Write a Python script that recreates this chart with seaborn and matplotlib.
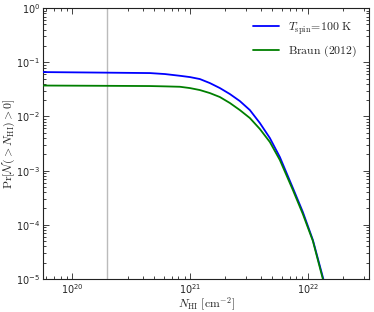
import numpy as np
import pandas as pd
import matplotlib
matplotlib.use("Agg")
import matplotlib.pyplot as plt
import seaborn as sns
from matplotlib.ticker import LogLocator, LogFormatterMathtext, NullFormatter

# Column density values (cm^-2)
n_blue = [5.68e19, 1.727e20, 4.58e20, 6.14e20, 8.23e20, 1.0e21, 1.215e21, 1.477e21,
          1.796e21, 2.183e21, 2.653e21, 3.225e21, 3.920e21, 4.764e21, 5.79e21,
          7.465e21, 9.07e21, 1.103e22, 1.353e22]
p_blue = [0.0659, 0.0645, 0.0632, 0.0606, 0.0563, 0.0533, 0.0490, 0.0413,
          0.0334, 0.0259, 0.0192, 0.0131, 0.00755, 0.00399, 0.00178,
          4.78e-4, 1.72e-4, 5.25e-5, 1.0e-5]

n_green = [5.68e19, 1.727e20, 4.58e20, 6.14e20, 8.23e20, 1.0e21, 1.215e21, 1.477e21,
           1.796e21, 2.183e21, 2.653e21, 3.225e21, 3.920e21, 4.764e21, 5.79e21,
           7.465e21, 9.07e21, 1.103e22, 1.340e22]
p_green = [0.0372, 0.0368, 0.0364, 0.0359, 0.0353, 0.0334, 0.0307, 0.0270,
           0.0228, 0.0177, 0.0131, 0.00934, 0.00586, 0.00337, 0.00157,
           4.39e-4, 1.58e-4, 5.03e-5, 1.0e-5]

labels = [r"$T_{\rm spin}\!=\!100\ {\rm K}$", r"${\rm Braun\ (2012)}$"]
colors = ["#0000ff", "#007f00"]
vline_x = 2e20

sns.set_theme(style="ticks")
plt.rcParams["font.family"] = ["DejaVu Sans"]
plt.rcParams["mathtext.fontset"] = "cm"

df = pd.concat([
    pd.DataFrame({"N": n_blue, "P": p_blue, "series": labels[0]}),
    pd.DataFrame({"N": n_green, "P": p_green, "series": labels[1]}),
])

fig = plt.figure(figsize=(3.74, 3.12), dpi=100)
ax = fig.add_axes([0.115, 0.106, 0.8716, 0.868])

ax.axvline(vline_x, color="#bbbbbb", lw=1.0, zorder=1)
sns.lineplot(data=df, x="N", y="P", hue="series", palette=colors, ax=ax,
             lw=1.3, sort=False, estimator=None, zorder=3)

ax.set_xscale("log")
ax.set_yscale("log")
ax.set_xlim(5.68e19, 3.3e22)
ax.set_ylim(1e-5, 1)

ax.xaxis.set_major_locator(LogLocator(base=10, numticks=10))
ax.xaxis.set_minor_locator(LogLocator(base=10, subs=np.arange(2, 10), numticks=10))
ax.yaxis.set_major_locator(LogLocator(base=10, numticks=10))
ax.yaxis.set_minor_locator(LogLocator(base=10, subs=np.arange(2, 10), numticks=10))
ax.xaxis.set_major_formatter(LogFormatterMathtext())
ax.yaxis.set_major_formatter(LogFormatterMathtext())
ax.xaxis.set_minor_formatter(NullFormatter())
ax.yaxis.set_minor_formatter(NullFormatter())

ax.tick_params(which="both", direction="in", top=True, right=True, labelsize=7,
               color="#222222", width=0.6, pad=2)
ax.tick_params(which="major", length=4)
ax.tick_params(which="minor", length=2)
for s in ax.spines.values():
    s.set_color("#222222")
    s.set_linewidth(0.8)

ax.set_xlabel(r"$N_{\rm HI}\ [{\rm cm}^{-2}]$", fontsize=8.5, labelpad=0)
ax.set_ylabel(r"${\rm Pr}[\mathcal{N}(>N_{\rm HI})>0]$", fontsize=8.5, labelpad=-1)

leg = ax.legend(loc="upper right", frameon=False, fontsize=8.5, handlelength=2.2,
                borderaxespad=0.6, labelspacing=0.6)
leg.set_title(None)

fig.savefig("out.png", dpi=100)
